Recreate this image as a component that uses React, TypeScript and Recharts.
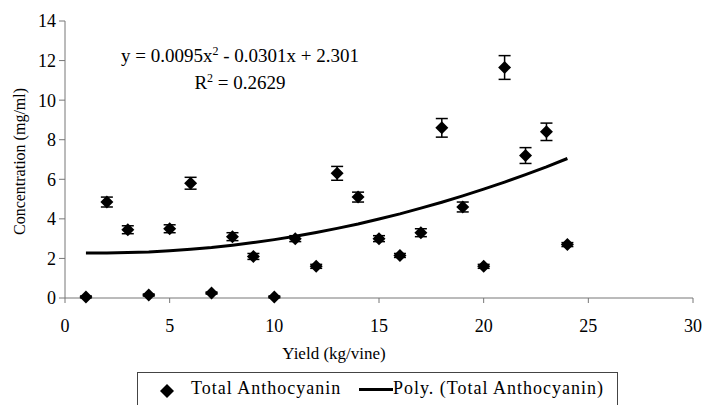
import React from 'react';
import { ComposedChart, Scatter, Line, XAxis, YAxis, ErrorBar, Label } from 'recharts';

// yield (kg/vine) per vine sample
const yieldKg = [1, 2, 3, 4, 5, 6, 7, 8, 9, 10, 11, 12, 13, 14, 15, 16, 17, 18, 19, 20, 21, 22, 23, 24];
// total anthocyanin (mg/ml)
const anthocyanin = [0.05, 4.85, 3.45, 0.15, 3.5, 5.8, 0.25, 3.1, 2.1, 0.05, 3.0, 1.6, 6.3, 5.1, 3.0, 2.15, 3.3, 8.6, 4.6, 1.6, 11.65, 7.2, 8.4, 2.7];
// error bar half-heights
const errors = [0.05, 0.25, 0.2, 0.05, 0.2, 0.3, 0.05, 0.2, 0.15, 0.05, 0.15, 0.1, 0.35, 0.25, 0.15, 0.1, 0.2, 0.47, 0.25, 0.1, 0.6, 0.4, 0.44, 0.1];
// poly trendline
const polyTrend = [2.28, 2.28, 2.3, 2.33, 2.39, 2.46, 2.55, 2.67, 2.8, 2.95, 3.12, 3.31, 3.52, 3.74, 3.99, 4.25, 4.54, 4.84, 5.16, 5.5, 5.86, 6.24, 6.63, 7.05];

const xTicks = [0, 5, 10, 15, 20, 25, 30];
const yTicks = [0, 2, 4, 6, 8, 10, 12, 14];

const data = yieldKg.map((x, i) => ({
  x,
  conc: anthocyanin[i],
  err: errors[i],
  trend: polyTrend[i],
}));

const FONT = '"Liberation Serif", "Times New Roman", serif';

const Diamond = (props: any) => {
  const { cx, cy } = props;
  if (cx == null || cy == null) return null;
  const r = 6.5;
  return <polygon points={`${cx},${cy - r} ${cx + r},${cy} ${cx},${cy + r} ${cx - r},${cy}`} fill="#000" />;
};

export default function App() {
  const tick = { fill: '#000', fontSize: 18 };
  return (
    <div style={{ position: 'absolute', left: 0, top: 0, width: 704, height: 405, background: '#fff', overflow: 'hidden', fontFamily: FONT }}>
      <ComposedChart width={704} height={405} data={data} margin={{ top: 21, right: 11, left: 0, bottom: 45 }}>
        <XAxis
          dataKey="x"
          type="number"
          domain={[0, 30]}
          ticks={xTicks}
          tickSize={5}
          tickMargin={16}
          height={62}
          tick={tick}
          axisLine={{ stroke: '#777' }}
          tickLine={{ stroke: '#777' }}
        >
          <Label value="Yield (kg/vine)" position="insideBottom" offset={1} dx={-45} fill="#000" fontSize={17} />
        </XAxis>
        <YAxis
          type="number"
          domain={[0, 14]}
          ticks={yTicks}
          tickSize={6}
          tickMargin={3}
          width={65}
          tick={tick}
          axisLine={{ stroke: '#777' }}
          tickLine={{ stroke: '#777' }}
        >
          <Label value="Concentration (mg/ml)" angle={-90} position="insideLeft" offset={19} dy={2} fill="#000" fontSize={16} style={{ textAnchor: 'middle' }} />
        </YAxis>
        <Line dataKey="trend" type="linear" stroke="#000" strokeWidth={3} dot={false} activeDot={false} isAnimationActive={false} />
        <Scatter dataKey="conc" shape={<Diamond />} isAnimationActive={false}>
          <ErrorBar dataKey="err" direction="y" width={6} stroke="#000" strokeWidth={1.5} />
        </Scatter>
      </ComposedChart>

      <div style={{ position: 'absolute', left: 0, width: 480, top: 42, textAlign: 'center', fontSize: 19, lineHeight: '27px', color: '#000' }}>
        <div>y = 0.0095x<sup style={{ fontSize: 12, lineHeight: 0 }}>2</sup> - 0.0301x + 2.301</div>
        <div>R<sup style={{ fontSize: 12, lineHeight: 0 }}>2</sup> = 0.2629</div>
      </div>

      <div style={{ position: 'absolute', left: 137, top: 372, width: 481, height: 40, border: '1px solid #444', boxSizing: 'border-box', fontSize: 18, letterSpacing: 1, color: '#000', whiteSpace: 'nowrap' }}>
        <svg width={14} height={14} style={{ position: 'absolute', left: 22, top: 11 }}>
          <polygon points="7,0 14,7 7,14 0,7" fill="#000" />
        </svg>
        <span style={{ position: 'absolute', left: 53, top: 5, lineHeight: 'normal' }}>Total Anthocyanin</span>
        <div style={{ position: 'absolute', left: 221, top: 15, width: 34, height: 3, background: '#000' }} />
        <span style={{ position: 'absolute', left: 255, top: 5, lineHeight: 'normal' }}>Poly. (Total Anthocyanin)</span>
      </div>
    </div>
  );
}
